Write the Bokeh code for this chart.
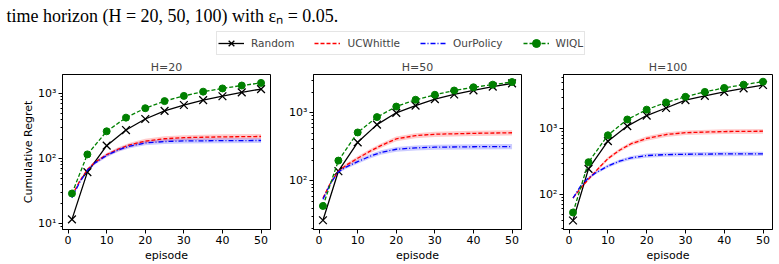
from bokeh.plotting import figure
from bokeh.layouts import column, row
from bokeh.models import (Range1d, FixedTicker, CustomJSTickFormatter,
                          Legend, LegendItem)
from bokeh.core.properties import value
from bokeh.embed import file_html
from bokeh.resources import INLINE

CAPTION = "time horizon (H = 20, 50, 100) with \u03b5\u2099 = 0.05."

# episodes where the marker series were recorded
EPISODES = [1, 5, 10, 15, 20, 25, 30, 35, 40, 45, 50]
# episodes used for the smooth curves (UCWhittle / OurPolicy)
CURVE_EPISODES = [1, 3, 5, 7, 10, 13, 16, 20, 25, 30, 40, 50]

# ---- H = 20 ----
random_h20 = [11.6, 62, 158, 275, 407, 543, 668, 794, 912, 1047, 1175]
wiql_h20 = [29, 116, 263, 427, 596, 767, 923, 1072, 1202, 1333, 1462]
ucw_h20 = [27, 45, 68, 88, 115, 140, 163, 186, 202, 210, 216, 219]
ucw_h20_sd = [1, 2, 3, 5, 7, 10, 13, 16, 18, 19, 20, 20]
ours_h20 = [25, 43, 66, 86, 112, 136, 156, 174, 183, 187, 189, 190]
ours_h20_sd = [1, 2, 3, 5, 7, 9, 12, 14, 15, 16, 16, 16]

# ---- H = 50 ----
random_h50 = [26.5, 139, 369, 671, 1000, 1275, 1590, 1860, 2140, 2425, 2700]
wiql_h50 = [43, 199, 515, 865, 1235, 1555, 1840, 2125, 2370, 2590, 2830]
ucw_h50 = [56, 95, 139, 170, 215, 270, 330, 415, 462, 485, 500, 510]
ucw_h50_sd = [2, 4, 7, 10, 15, 20, 26, 33, 38, 42, 44, 45]
ours_h50 = [54, 93, 136, 160, 192, 228, 262, 292, 306, 313, 318, 320]
ours_h50_sd = [2, 4, 6, 9, 13, 16, 20, 24, 26, 27, 28, 28]

# ---- H = 100 ----
random_h100 = [40, 245, 646, 1096, 1585, 2065, 2720, 3160, 3630, 4120, 4620]
wiql_h100 = [53, 309, 794, 1380, 1950, 2510, 3055, 3630, 4170, 4680, 5190]
ucw_h100 = [88, 125, 170, 230, 350, 470, 590, 710, 815, 870, 905, 915]
ucw_h100_sd = [3, 5, 8, 12, 20, 30, 42, 55, 66, 72, 76, 78]
ours_h100 = [88, 135, 178, 215, 270, 320, 360, 390, 403, 408, 413, 415]
ours_h100_sd = [3, 5, 8, 11, 15, 19, 24, 28, 30, 31, 32, 32]

X_TICKS = [0, 10, 20, 30, 40, 50]
DECADES = [10, 100, 1000]

FONT = "DejaVu Sans"
C_RANDOM, C_UCW, C_OURS, C_WIQL = "black", "red", "blue", "green"
LW = 1.3

SUPERSCRIPT_FMT = CustomJSTickFormatter(code="""
    const sup = {"0":"\u2070","1":"\u00b9","2":"\u00b2","3":"\u00b3","4":"\u2074",
                 "5":"\u2075","6":"\u2076","7":"\u2077","8":"\u2078","9":"\u2079","-":"\u207b"};
    const e = Math.round(Math.log10(tick));
    return "10" + String(e).split("").map(c => sup[c]).join("");
""")


def minor_ticks():
    out = []
    for d in [1] + DECADES:
        out.extend(m * d for m in range(2, 10))
    return out


def panel(title, rnd, wiql, ucw, ucw_sd, ours, ours_sd, y_lo, y_hi,
          width, left, right, ylabel=None):
    p = figure(width=width, height=207, y_axis_type="log",
               x_range=Range1d(-1.45, 52.45), y_range=Range1d(y_lo, y_hi),
               toolbar_location=None, output_backend="svg",
               min_border_left=left, min_border_right=right,
               min_border_top=15, min_border_bottom=33, title=title)
    p.title.text_font = FONT
    p.title.text_font_size = "11px"
    p.title.text_font_style = "normal"
    p.title.align = "center"
    p.title.standoff = 2
    p.outline_line_color = "black"
    p.outline_line_width = 1
    p.grid.visible = False
    p.background_fill_color = "white"
    p.border_fill_color = "white"

    # shaded spread around the two index policies
    p.varea(x=CURVE_EPISODES,
            y1=[v - s for v, s in zip(ucw, ucw_sd)],
            y2=[v + s for v, s in zip(ucw, ucw_sd)],
            fill_color=C_UCW, fill_alpha=0.2)
    p.varea(x=CURVE_EPISODES,
            y1=[v - s for v, s in zip(ours, ours_sd)],
            y2=[v + s for v, s in zip(ours, ours_sd)],
            fill_color=C_OURS, fill_alpha=0.2)

    p.line(EPISODES, rnd, line_color=C_RANDOM, line_width=LW)
    p.scatter(EPISODES, rnd, marker="x", size=11, line_color=C_RANDOM, line_width=LW)
    p.line(CURVE_EPISODES, ucw, line_color=C_UCW, line_width=LW, line_dash="4 2")
    p.line(CURVE_EPISODES, ours, line_color=C_OURS, line_width=LW, line_dash="5 2 1 2")
    p.line(EPISODES, wiql, line_color=C_WIQL, line_width=LW, line_dash="4 2")
    p.scatter(EPISODES, wiql, marker="circle", size=7, fill_color=C_WIQL, line_color=C_WIQL)

    xa = p.xaxis[0]
    xa.ticker = FixedTicker(ticks=X_TICKS)
    xa.axis_label = "episode"
    ya = p.yaxis[0]
    ya.ticker = FixedTicker(ticks=DECADES, minor_ticks=minor_ticks())
    ya.formatter = SUPERSCRIPT_FMT
    if ylabel:
        ya.axis_label = ylabel
    for ax in (xa, ya):
        ax.axis_line_color = "black"
        ax.major_tick_line_color = "black"
        ax.minor_tick_line_color = "black"
        ax.major_tick_out = 4
        ax.major_tick_in = 0
        ax.minor_tick_out = 2
        ax.minor_tick_in = 0
        ax.major_label_standoff = 2
        ax.axis_label_standoff = 2
        ax.major_label_text_font = FONT
        ax.major_label_text_font_size = "11px"
        ax.major_label_text_color = "black"
        ax.axis_label_text_font = FONT
        ax.axis_label_text_font_size = "11px"
        ax.axis_label_text_font_style = "normal"
        ax.axis_label_text_color = "black"
    xa.minor_tick_line_color = None
    if ylabel:
        ya.axis_label_standoff = 0
    return p


# header: caption line and the shared legend
top = figure(width=779, height=57, x_range=Range1d(0, 779), y_range=Range1d(0, 57),
             toolbar_location=None, output_backend="svg", min_border=0)
top.axis.visible = False
top.grid.visible = False
top.outline_line_color = None
top.text(x=[6], y=[42], text=[CAPTION], text_font=value("Liberation Serif"),
         text_font_size="18px", text_baseline="alphabetic", text_color="black")

off_x, off_y = [-100, -90], [-100, -100]
r_line = top.line(off_x, off_y, line_color=C_RANDOM, line_width=LW)
r_mark = top.scatter(off_x, off_y, marker="x", size=11, line_color=C_RANDOM, line_width=LW)
u_line = top.line(off_x, off_y, line_color=C_UCW, line_width=LW, line_dash="4 2")
o_line = top.line(off_x, off_y, line_color=C_OURS, line_width=LW, line_dash="5 2 1 2")
w_line = top.line(off_x, off_y, line_color=C_WIQL, line_width=LW, line_dash="4 2")
w_mark = top.scatter(off_x, off_y, marker="circle", size=7, fill_color=C_WIQL, line_color=C_WIQL)

legend = Legend(items=[
    LegendItem(label="Random", renderers=[r_line, r_mark]),
    LegendItem(label="UCWhittle", renderers=[u_line]),
    LegendItem(label="OurPolicy", renderers=[o_line]),
    LegendItem(label="WIQL", renderers=[w_line, w_mark]),
], location=(216, 2), orientation="horizontal")
legend.margin = 0
legend.padding = 1
legend.spacing = 20
legend.glyph_width = 26
legend.glyph_height = 20
legend.label_height = 12
legend.label_standoff = 7
legend.label_text_font = FONT
legend.label_text_font_size = "10.5px"
legend.label_text_baseline = "middle"
legend.border_line_color = "#cccccc"
legend.border_line_width = 1
legend.background_fill_alpha = 0.8
top.add_layout(legend)

p1 = panel("H=20", random_h20, wiql_h20, ucw_h20, ucw_h20_sd, ours_h20, ours_h20_sd,
           8.1, 1970, width=285, left=62, right=15, ylabel="Cumulative Regret")
p2 = panel("H=50", random_h50, wiql_h50, ucw_h50, ucw_h50_sd, ours_h50, ours_h50_sd,
           19.4, 3650, width=251, left=28, right=15)
p3 = panel("H=100", random_h100, wiql_h100, ucw_h100, ucw_h100_sd, ours_h100, ours_h100_sd,
           29.2, 6680, width=243, left=27, right=7)

layout = column(top, row(p1, p2, p3, spacing=0), spacing=0)

open("out.html", "w").write(file_html(layout, INLINE))
